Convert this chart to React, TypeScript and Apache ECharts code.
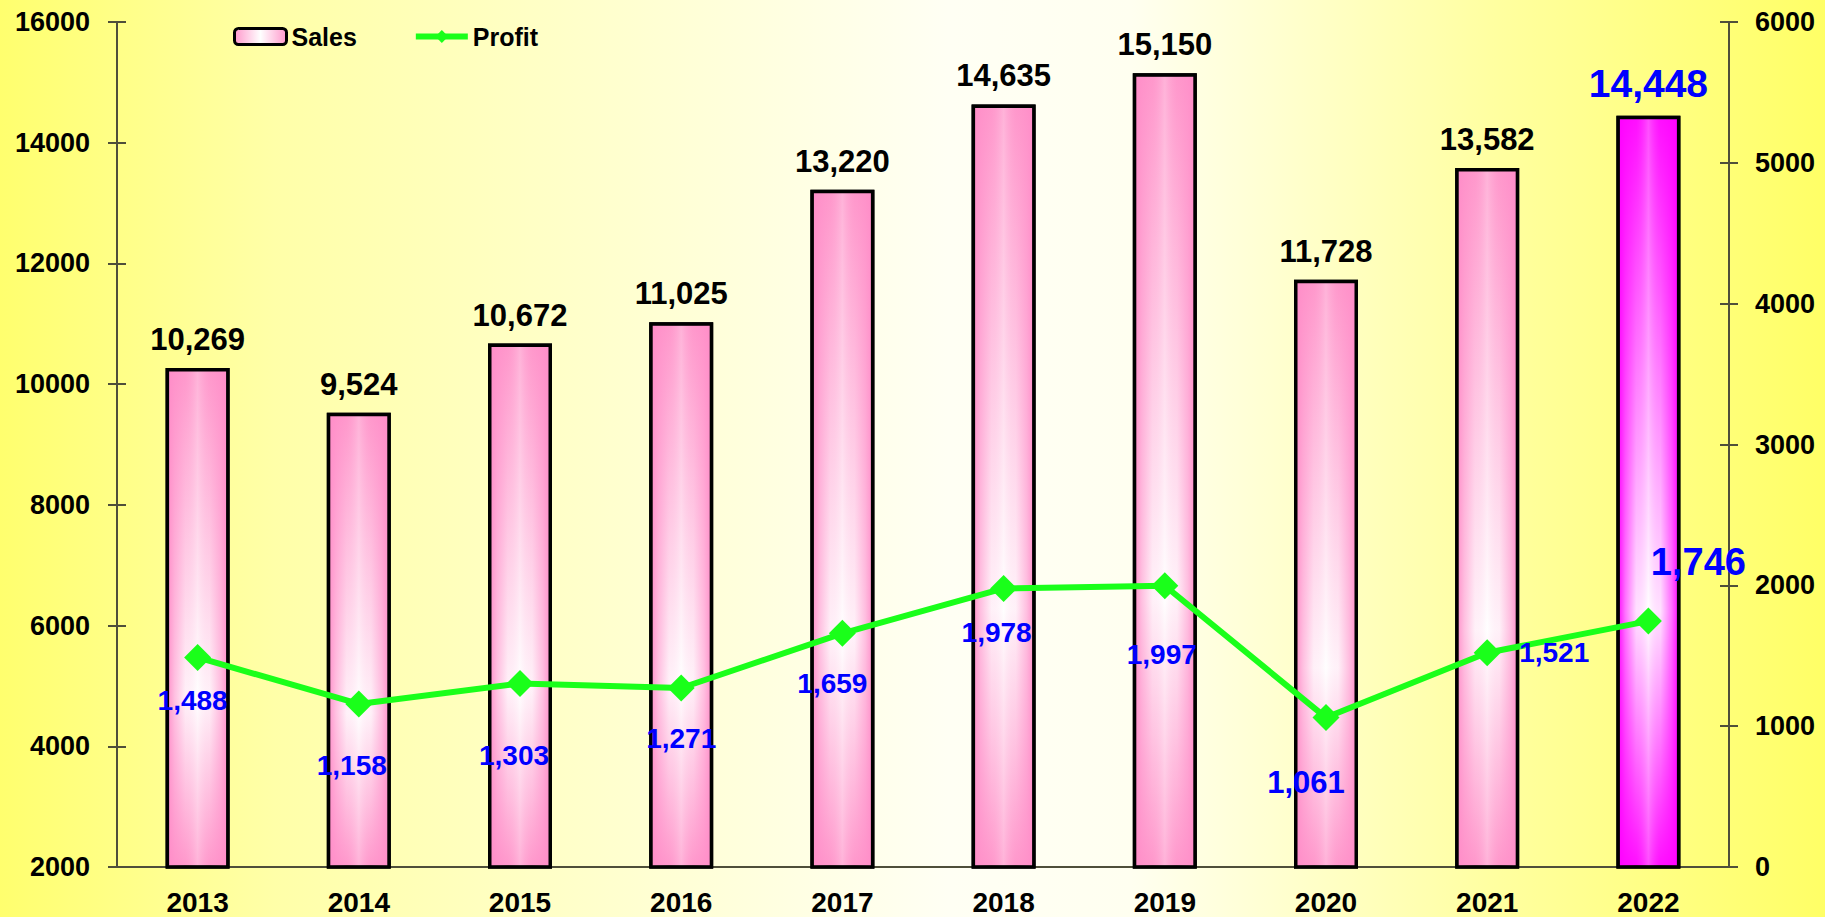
import React, { useEffect, useRef } from "react";
import * as echarts from "echarts";

const years = ["2013", "2014", "2015", "2016", "2017", "2018", "2019", "2020", "2021", "2022"];
const sales = [10269, 9524, 10672, 11025, 13220, 14635, 15150, 11728, 13582, 14448];
const profit = [1488, 1158, 1303, 1271, 1659, 1978, 1997, 1061, 1521, 1746];
const salesAxis = { min: 2000, max: 16000, interval: 2000 };
const profitAxis = { min: 0, max: 6000, interval: 1000 };
const profitLabelOffsets = [
  [-5, 43], [-7, 62], [-6, 72], [0, 50], [-10, 50],
  [-7, 44], [-3, 69], [-20, 65], [67, 0], [50, -59],
];
const highlightIndex = 9;

const FONT = "'Liberation Sans', Arial, sans-serif";
const AXIS_COLOR = "#4f4f3a";
const GREEN = "#1aff1a";

const fmt = (v: number) => v.toLocaleString("en-US");

const vGrad = (edge: string) =>
  new echarts.graphic.LinearGradient(0, 0, 0, 1, [
    { offset: 0, color: edge },
    { offset: 0.66, color: "#ffffff" },
    { offset: 1, color: edge },
  ]);

const hGrad = (r: number, g: number, b: number) =>
  new echarts.graphic.LinearGradient(0, 0, 1, 0, [
    { offset: 0, color: `rgba(${r},${g},${b},0.95)` },
    { offset: 0.12, color: `rgba(${r},${g},${b},0.55)` },
    { offset: 0.3, color: `rgba(${r},${g},${b},0.12)` },
    { offset: 0.5, color: `rgba(255,255,255,0.25)` },
    { offset: 0.7, color: `rgba(${r},${g},${b},0.12)` },
    { offset: 0.88, color: `rgba(${r},${g},${b},0.55)` },
    { offset: 1, color: `rgba(${r},${g},${b},0.95)` },
  ]);

export default function App() {
  const ref = useRef<HTMLDivElement>(null);

  useEffect(() => {
    if (!ref.current) return;
    const chart = echarts.init(ref.current, undefined, { renderer: "svg" });

    const baseData = sales.map((v, i) => ({
      value: v,
      itemStyle: { color: i === highlightIndex ? vGrad("#ff10ff") : vGrad("#ff99cc") },
    }));
    const shadeData = sales.map((v, i) => ({
      value: v,
      itemStyle: { color: i === highlightIndex ? hGrad(255, 0, 255) : hGrad(255, 140, 200) },
      label:
        i === highlightIndex
          ? { color: "#0000ff", fontSize: 39 }
          : { color: "#000000", fontSize: 31 },
    }));
    const profitData = profit.map((v, i) => ({
      value: v,
      label: {
        offset: profitLabelOffsets[i],
        fontSize: i === highlightIndex ? 38 : i === 7 ? 31 : 28,
      },
    }));

    const yAxisCommon = {
      type: "value" as const,
      splitLine: { show: false },
    };

    chart.setOption({
      animation: false,
      backgroundColor: "transparent",
      textStyle: { fontFamily: FONT },
      grid: { left: 117, right: 96, top: 22, bottom: 50, containLabel: false },
      legend: {
        data: [
          { name: "Sales", itemStyle: { borderColor: "#000", borderWidth: 3 } },
          { name: "Profit", lineStyle: { width: 6, color: GREEN }, itemStyle: { color: GREEN } },
        ],
        left: 228,
        top: 19,
        itemWidth: 52,
        itemHeight: 16,
        itemGap: 56,
        textStyle: { fontFamily: FONT, fontSize: 25, fontWeight: "bold", color: "#000" },
        selectedMode: false,
      },
      xAxis: [
        {
          type: "category",
          data: years,
          axisLine: { lineStyle: { color: AXIS_COLOR, width: 2 } },
          axisTick: { length: 10, lineStyle: { color: AXIS_COLOR, width: 2 } },
          axisLabel: { fontFamily: FONT, fontSize: 28, fontWeight: "bold", color: "#000", margin: 21 },
        },
        {
          type: "category",
          data: years,
          position: "bottom",
          axisLine: { show: false },
          axisTick: { inside: true, length: 10, lineStyle: { color: AXIS_COLOR, width: 2 } },
          axisLabel: { show: false },
        },
      ],
      yAxis: [
        {
          ...yAxisCommon,
          ...salesAxis,
          position: "left",
          axisLine: { show: true, lineStyle: { color: AXIS_COLOR, width: 2 } },
          axisTick: { show: true, length: 9, lineStyle: { color: AXIS_COLOR, width: 2 } },
          axisLabel: {
            fontFamily: FONT, fontSize: 27, fontWeight: "bold", color: "#000", margin: 27,
            formatter: (v: number) => String(v),
          },
        },
        {
          ...yAxisCommon,
          ...profitAxis,
          position: "right",
          axisLine: { show: true, lineStyle: { color: AXIS_COLOR, width: 2 } },
          axisTick: { show: true, length: 9, lineStyle: { color: AXIS_COLOR, width: 2 } },
          axisLabel: {
            fontFamily: FONT, fontSize: 27, fontWeight: "bold", color: "#000", margin: 26,
            formatter: (v: number) => String(v),
          },
        },
        {
          ...yAxisCommon,
          ...salesAxis,
          position: "left",
          axisLine: { show: false },
          axisTick: { show: true, inside: true, length: 9, lineStyle: { color: AXIS_COLOR, width: 2 } },
          axisLabel: { show: false },
        },
        {
          ...yAxisCommon,
          ...profitAxis,
          position: "right",
          axisLine: { show: false },
          axisTick: { show: true, inside: true, length: 9, lineStyle: { color: AXIS_COLOR, width: 2 } },
          axisLabel: { show: false },
        },
      ],
      series: [
        {
          name: "Sales",
          type: "bar",
          xAxisIndex: 0,
          yAxisIndex: 0,
          barWidth: 64,
          data: baseData,
          itemStyle: {
            color: new echarts.graphic.LinearGradient(0, 0, 1, 0, [
              { offset: 0, color: "#ff99cc" },
              { offset: 0.5, color: "#ffffff" },
              { offset: 1, color: "#ff99cc" },
            ]),
            borderColor: "#000",
            borderWidth: 3,
          },
          silent: true,
        },
        {
          name: "SalesShade",
          type: "bar",
          xAxisIndex: 0,
          yAxisIndex: 0,
          barWidth: 64,
          barGap: "-100%",
          data: shadeData,
          itemStyle: { borderColor: "#000", borderWidth: 3.5 },
          label: {
            show: true,
            position: "top",
            distance: 13,
            fontFamily: FONT,
            fontWeight: "bold",
            formatter: (p: any) => fmt(p.value),
          },
          silent: true,
        },
        {
          name: "Profit",
          type: "line",
          xAxisIndex: 0,
          yAxisIndex: 1,
          data: profitData,
          symbol: "diamond",
          symbolSize: 27,
          lineStyle: { color: GREEN, width: 6 },
          itemStyle: { color: GREEN },
          label: {
            show: true,
            position: "inside",
            color: "#0000ff",
            fontFamily: FONT,
            fontWeight: "bold",
            formatter: (p: any) => fmt(p.value),
          },
          z: 5,
          silent: true,
        },
      ],
    });

    return () => chart.dispose();
  }, []);

  return (
    <div
      ref={ref}
      style={{
        position: "fixed",
        left: 0,
        top: 0,
        width: 1825,
        height: 917,
        background:
          "linear-gradient(to right, #ffff6e 0%, #ffffa8 15%, #fffff4 52%, #fffff0 62%, #ffffa0 82%, #ffff66 100%)",
      }}
    />
  );
}
